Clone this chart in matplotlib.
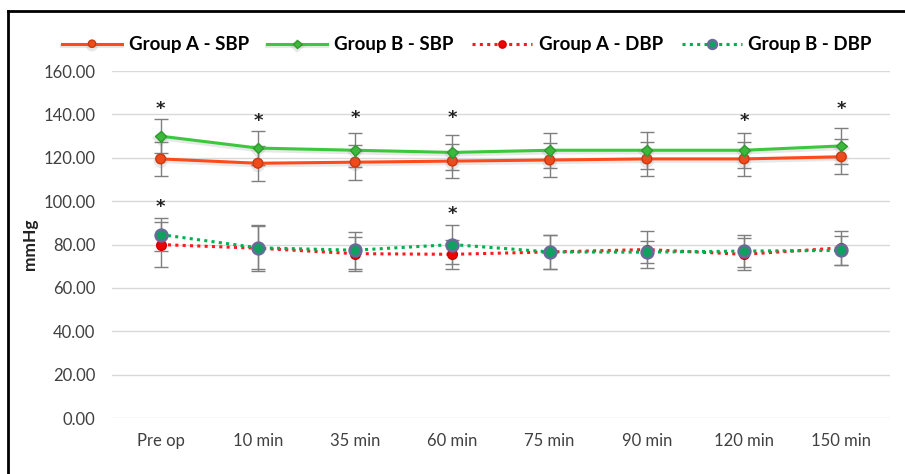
import numpy as np
import matplotlib
matplotlib.use("Agg")
import matplotlib.pyplot as plt
import matplotlib.patheffects as pe
from matplotlib.lines import Line2D

plt.rcParams['font.family'] = ['Lato', 'DejaVu Sans']

# time points
times = ['Pre op', '10 min', '35 min', '60 min', '75 min', '90 min', '120 min', '150 min']

# systolic (mean, sd)
a_sbp = [119.5, 117.5, 118.0, 118.5, 119.0, 119.5, 119.5, 120.5]
a_sbp_sd = [8.0, 8.0, 8.0, 8.0, 8.0, 8.0, 8.0, 8.0]
b_sbp = [130.0, 124.5, 123.5, 122.5, 123.5, 123.5, 123.5, 125.5]
b_sbp_sd = [7.8, 7.8, 7.8, 7.9, 8.0, 8.5, 8.0, 8.3]

# diastolic (mean, sd)
a_dbp = [80.0, 78.3, 75.8, 75.5, 76.6, 77.7, 75.5, 78.5]
a_dbp_sd = [10.5, 10.5, 7.8, 6.8, 7.7, 8.5, 7.4, 7.7]
b_dbp = [84.6, 78.5, 77.4, 80.0, 76.6, 76.5, 77.0, 77.3]
b_dbp_sd = [7.5, 10.0, 8.6, 8.8, 7.7, 5.0, 7.4, 6.5]

# significance markers (index, height)
sbp_stars = [(0, 143.8), (1, 138.4), (2, 139.8), (3, 139.8), (6, 138.6), (7, 144.2)]
dbp_stars = [(0, 99.0), (3, 95.8)]

x = np.arange(len(times))

fig = plt.figure(figsize=(9.05, 4.74), dpi=100)
ax = fig.add_axes([0.1238, 0.1181, 0.8596, 0.7319])

shadow = [pe.SimpleLineShadow(offset=(0, -1.5), shadow_color='gray', alpha=0.18, linewidth=3),
          pe.Normal()]

err_kw = dict(fmt='none', ecolor='#7f7f7f', elinewidth=1, capsize=5, capthick=1, zorder=2)
ax.errorbar(x, a_sbp, yerr=a_sbp_sd, **err_kw)
ax.errorbar(x, b_sbp, yerr=b_sbp_sd, **err_kw)
ax.errorbar(x, a_dbp, yerr=a_dbp_sd, **err_kw)
ax.errorbar(x, b_dbp, yerr=b_dbp_sd, **err_kw)

ax.plot(x, a_sbp, color='#FF4A1C', lw=2.2, marker='o', ms=7, mfc='#F04A1A', mec='#C83A10',
        label='Group A - SBP', zorder=4, path_effects=shadow)
ax.plot(x, b_sbp, color='#3CC83C', lw=2.2, marker='D', ms=5.5, mfc='#3CB83C', mec='#2E9A2E',
        label='Group B - SBP', zorder=4, path_effects=shadow)
ax.plot(x, a_dbp, color='#FF1A1A', lw=2.2, ls=(0, (1, 1.4)), marker='o', ms=7, mfc='#EE0000',
        mec='#CC0000', label='Group A - DBP', zorder=4)
ax.plot(x, b_dbp, color='#00B050', lw=2.2, ls=(0, (1, 1.4)), marker='o', ms=8.5, mfc='#10A060',
        mec='#6A6A9A', mew=1.8, label='Group B - DBP', zorder=5)

for i, h in sbp_stars + dbp_stars:
    ax.text(x[i], h - 1.5, '*', ha='center', va='center', fontsize=13, fontweight='bold',
            color='#222222', family='DejaVu Sans')

ax.set_xlim(-0.5, len(times) - 0.5)
ax.set_ylim(0, 160)
ax.set_yticks(np.arange(0, 161, 20))
ax.set_yticklabels([f'{v:.2f}' for v in np.arange(0, 161, 20)])
ax.set_xticks(x)
ax.set_xticklabels(times)
ax.tick_params(axis='both', length=0, labelsize=12, colors='#404040')
ax.tick_params(axis='y', pad=12)
ax.tick_params(axis='x', pad=11)
ax.grid(axis='y', color='#d9d9d9', lw=1)
ax.set_axisbelow(True)
for s in ax.spines.values():
    s.set_visible(False)

ax.set_ylabel('mmHg', fontsize=12.5, fontweight='bold', color='#222222', labelpad=4)

ax.legend(loc='lower center', bbox_to_anchor=(0.456, 1.0), ncol=4, frameon=False,
          prop={'weight': 'bold', 'size': 13.5}, handlelength=3.2, columnspacing=1.0,
          handletextpad=0.35, borderaxespad=0.55, markerscale=0.75)

# outer frame (cropped at right and bottom)
fig.add_artist(Line2D([0.009, 0.009], [0.0, 0.977], transform=fig.transFigure, color='black', lw=2))
fig.add_artist(Line2D([0.009, 1.0], [0.977, 0.977], transform=fig.transFigure, color='black', lw=2))

fig.savefig('out.png', dpi=100)
